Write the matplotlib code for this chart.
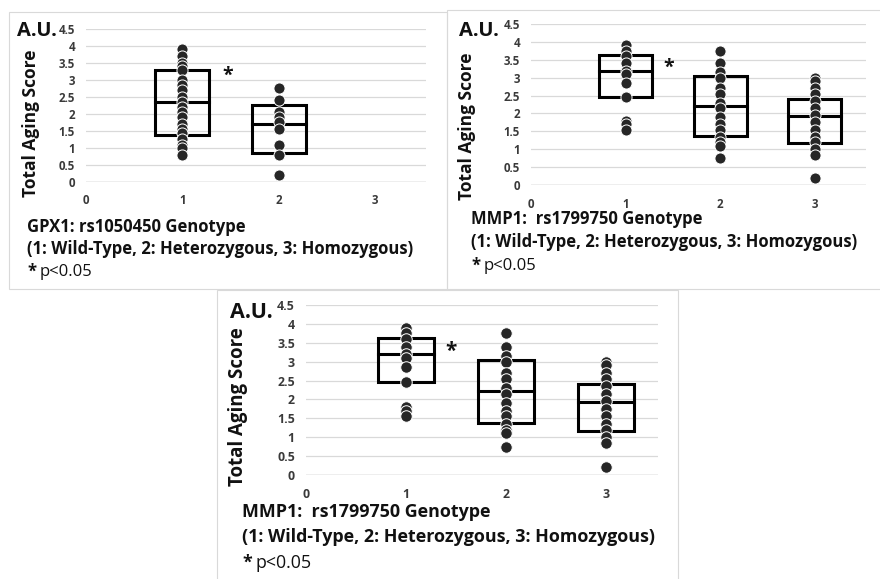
import numpy as np
import matplotlib.pyplot as plt
from matplotlib.patches import Rectangle

plt.rcParams['font.family'] = ['Open Sans', 'DejaVu Sans']

W, H = 880, 579

# genotype groups on the x axis
genotypes = [1, 2, 3]
xtick_vals = [0, 1, 2, 3]
xtick_labels = ['0', '1', '2', '3']
ytick_vals = [0, 0.5, 1, 1.5, 2, 2.5, 3, 3.5, 4, 4.5]
ytick_labels = ['0', '0.5', '1', '1.5', '2', '2.5', '3', '3.5', '4', '4.5']

# GPX1 rs1050450 - total aging score per subject
gpx1_wt = [3.9, 3.7, 3.5, 3.4, 3.3, 3.0, 2.85, 2.7, 2.5, 2.35, 2.2, 2.05,
           1.9, 1.7, 1.55, 1.45, 1.25, 1.1, 1.0, 0.8]
gpx1_het = [2.75, 2.4, 2.05, 1.9, 1.75, 1.55, 1.1, 0.8, 0.2]
# (q1, median, q3) as drawn
gpx1_box = [(1.38, 2.35, 3.3), (0.85, 1.7, 2.25)]

# MMP1 rs1799750
mmp1_wt = [3.9, 3.75, 3.6, 3.4, 3.2, 3.1, 2.85, 2.45, 1.8, 1.7, 1.55]
mmp1_het = [3.75, 3.4, 3.15, 3.0, 2.7, 2.55, 2.3, 2.15, 1.9, 1.7, 1.55,
            1.35, 1.2, 1.1, 0.75]
mmp1_hom = [3.0, 2.9, 2.7, 2.55, 2.35, 2.15, 1.95, 1.75, 1.55, 1.35, 1.2,
            1.0, 0.85, 0.2]
mmp1_box = [(2.45, 3.2, 3.63), (1.38, 2.22, 3.05), (1.17, 1.93, 2.4)]

legend_line = '(1: Wild-Type, 2: Heterozygous, 3: Homozygous)'
dot_color = '#262626'
tick_color = '#3a3a3a'
text_color = '#111111'
border_color = '#d9d9d9'


def fx(px):
    return px / W


def fy(py):
    return 1 - py / H


def panel(left, top, right, bottom, xmax, groups, boxes, star, title,
          ylab_xy, au_xy, text_x, text_ys, scale=1.0):
    ax = fig.add_axes([fx(left), fy(bottom), fx(right - left), (bottom - top) / H])
    ax.set_xlim(0, xmax)
    ax.set_ylim(0, 4.5)
    for g, vals in zip(genotypes, groups):
        ax.scatter([g] * len(vals), vals, s=64 * scale, c=dot_color,
                   edgecolors='white', linewidths=0.7, zorder=4, clip_on=False)
    for g, (q1, med, q3) in zip(genotypes, boxes):
        ax.add_patch(Rectangle((g - 0.28, q1), 0.56, q3 - q1, fill=False,
                               ec='black', lw=2.2, zorder=3))
        ax.plot([g - 0.28, g + 0.28], [med, med], color='black', lw=2.2, zorder=3)
    ax.text(star[0], star[1], '*', fontsize=14 * scale, fontweight='bold',
            ha='center', va='center', color=text_color)
    ax.set_yticks(ytick_vals)
    ax.set_yticklabels(ytick_labels)
    ax.set_xticks(xtick_vals)
    ax.set_xticklabels(xtick_labels)
    ax.tick_params(length=0, labelsize=8.3 * scale, labelcolor=tick_color)
    ax.tick_params(axis='y', pad=8)
    ax.tick_params(axis='x', pad=9)
    for lab in ax.get_xticklabels() + ax.get_yticklabels():
        lab.set_fontweight('bold')
    ax.grid(axis='y', color=border_color, lw=0.9)
    ax.axhline(0, color='#bfbfbf', lw=1.0)
    for s in ax.spines.values():
        s.set_visible(False)
    ax.set_axisbelow(True)

    fig.text(fx(ylab_xy[0]), fy(ylab_xy[1]), 'Total Aging Score', rotation=90,
             fontsize=12.5 * scale, fontweight='bold', ha='center', va='center',
             color=text_color)
    fig.text(fx(au_xy[0]), fy(au_xy[1]), 'A.U.', fontsize=14.5 * scale,
             fontweight='bold', ha='left', va='center', color=text_color)
    fig.text(fx(text_x), fy(text_ys[0]), title, fontsize=12 * scale,
             fontweight='bold', ha='left', va='center', color=text_color)
    fig.text(fx(text_x), fy(text_ys[1]), legend_line, fontsize=12 * scale,
             fontweight='bold', ha='left', va='center', color=text_color)
    fig.text(fx(text_x), fy(text_ys[2]), '*', fontsize=12 * scale,
             fontweight='bold', ha='left', va='center', color=text_color)
    fig.text(fx(text_x + 13 * scale), fy(text_ys[2]), 'p<0.05', fontsize=12 * scale,
             ha='left', va='center', color=text_color)
    return ax


fig = plt.figure(figsize=(W / 100, H / 100), dpi=100)
fig.patch.set_facecolor('white')

# panel frames
fig.add_artist(Rectangle((fx(9), fy(289)), fx(438), (289 - 12) / H, fill=False,
                         ec=border_color, lw=0.8))
fig.add_artist(Rectangle((fx(447), fy(289)), fx(440), (289 - 10) / H, fill=False,
                         ec=border_color, lw=0.8, fc='white'))
fig.add_artist(Rectangle((fx(217), fy(585)), fx(461), (585 - 290) / H, fill=False,
                         ec=border_color, lw=0.8))

panel(86, 29, 426, 182, 3.53, [gpx1_wt, gpx1_het], gpx1_box, (1.47, 3.13),
      'GPX1: rs1050450 Genotype', (31, 123), (17, 31), 27, (227, 249, 272))
panel(531, 24, 866, 185, 3.54, [mmp1_wt, mmp1_het, mmp1_hom], mmp1_box, (1.46, 3.27),
      'MMP1:  rs1799750 Genotype', (467, 126), (459, 31), 471, (219, 242, 266))
panel(306, 305, 658, 475, 3.52, [mmp1_wt, mmp1_het, mmp1_hom], mmp1_box, (1.45, 3.26),
      'MMP1:  rs1799750 Genotype', (238, 407), (230, 313), 242, (512, 537, 563),
      scale=1.07)

fig.savefig('out.png', dpi=100)
